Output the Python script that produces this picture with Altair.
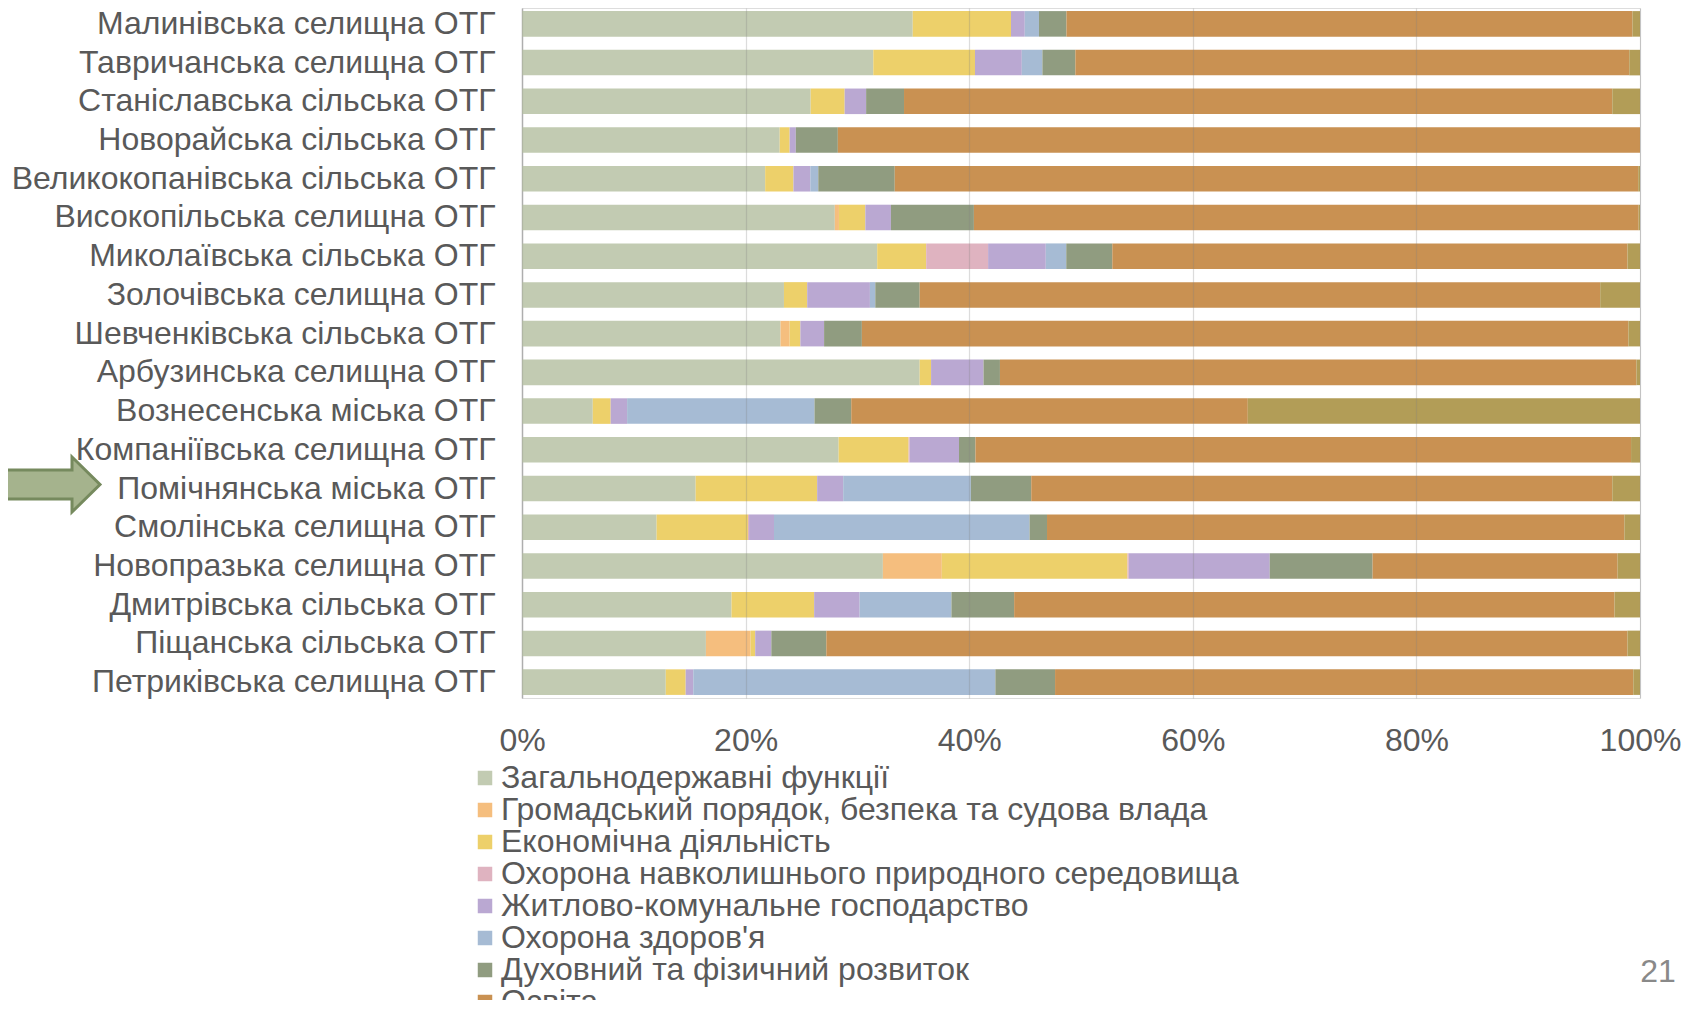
import altair as alt
import pandas as pd

FONT = "Liberation Sans"

regions = [
    "Малинівська селищна ОТГ",
    "Тавричанська селищна ОТГ",
    "Станіславська сільська ОТГ",
    "Новорайська сільська ОТГ",
    "Великокопанівська сільська ОТГ",
    "Високопільська селищна ОТГ",
    "Миколаївська сільська ОТГ",
    "Золочівська селищна ОТГ",
    "Шевченківська сільська ОТГ",
    "Арбузинська селищна ОТГ",
    "Вознесенська міська ОТГ",
    "Компаніївська селищна ОТГ",
    "Помічнянська міська ОТГ",
    "Смолінська селищна ОТГ\u00a0",
    "Новопразька селищна ОТГ",
    "Дмитрівська сільська ОТГ",
    "Піщанська сільська ОТГ",
    "Петриківська селищна ОТГ",
]

categories = [
    "Загальнодержавні функції",
    "Громадський порядок, безпека та судова влада",
    "Економічна діяльність",
    "Охорона навколишнього природного середовища",
    "Житлово-комунальне господарство",
    "Охорона здоров'я",
    "Духовний та фізичний розвиток",
    "Освіта",
    "Соціальний захист та соціальне забезпечення",
]

colors = ["#C2CBB2", "#F5BE7E", "#EDD06A", "#DFB3C0", "#BAA8D2",
          "#A6BBD4", "#909C80", "#C99152", "#B29D57"]

general = [34.95, 31.43, 25.82, 23.05, 21.75, 27.98, 31.77, 23.43, 23.12, 35.57, 6.33, 28.32, 15.53, 12.04, 32.28, 18.74, 16.45, 12.86]
public_order = [0, 0, 0, 0, 0, 0.37, 0, 0, 0.82, 0, 0, 0, 0, 0, 5.27, 0, 4.0, 0]
economic = [8.79, 9.10, 3.04, 0.89, 2.53, 2.36, 4.38, 2.08, 0.96, 1.02, 1.60, 6.26, 10.87, 8.17, 16.61, 7.39, 0.41, 1.78]
environment = [0, 0, 0, 0, 0, 0, 5.54, 0, 0, 0, 0, 0.1, 0, 0.1, 0.12, 0, 0, 0]
housing = [1.23, 4.19, 1.92, 0.55, 1.51, 2.29, 5.16, 5.61, 2.12, 4.69, 1.47, 4.41, 2.33, 2.23, 12.6, 4.07, 1.44, 0.68]
health = [1.27, 1.84, 0, 0, 0.71, 0, 1.83, 0.48, 0, 0, 16.76, 0, 11.42, 22.86, 0, 8.21, 0, 27.02]
culture = [2.46, 2.95, 3.39, 3.76, 6.84, 7.42, 4.12, 3.97, 3.38, 1.47, 3.29, 1.47, 5.40, 1.56, 9.2, 5.61, 4.92, 5.34]
education = [50.62, 49.56, 63.35, 71.75, 66.5, 59.46, 46.08, 60.87, 68.56, 56.93, 35.47, 58.64, 51.97, 51.64, 21.92, 53.7, 71.66, 51.72]
social = [0.68, 0.96, 2.48, 0, 0.16, 0.12, 1.12, 3.56, 1.04, 0.32, 35.08, 0.8, 2.48, 1.4, 2.0, 2.28, 1.12, 0.6]

series = [general, public_order, economic, environment, housing, health, culture, education, social]

x_ticks = [0, 0.2, 0.4, 0.6, 0.8, 1.0]

highlight = ["Помічнянська міська ОТГ"]
page_number = ["21"]

rows = []
for ci, (cat, vals) in enumerate(zip(categories, series)):
    for r, v in zip(regions, vals):
        if v > 0:
            rows.append({"region": r, "category": cat, "order": ci, "value": v})
df = pd.DataFrame(rows)

bars = alt.Chart(df).mark_bar(strokeWidth=0).encode(
    y=alt.Y("region:N", sort=regions,
            scale=alt.Scale(domain=regions, paddingInner=0.34, paddingOuter=0.08),
            axis=alt.Axis(title=None, labelFont=FONT, labelFontSize=32, labelColor="#595959",
                          labelPadding=27, ticks=False, domain=True, domainColor="#BFBFBF",
                          domainWidth=1.5, grid=False, labelLimit=1000)),
    x=alt.X("value:Q", stack="normalize",
            scale=alt.Scale(domain=[0, 1], nice=False),
            axis=alt.Axis(title=None, format=".0%", values=x_ticks, grid=True,
                          gridColor="#808080", gridOpacity=0.28, gridWidth=1.2,
                          domain=False, ticks=False, tickSize=0, labelPadding=27,
                          labelFlush=False,
                          labelFont=FONT, labelFontSize=32, labelColor="#595959",
                          zindex=1)),
    color=alt.Color("category:N", sort=categories,
                    scale=alt.Scale(domain=categories, range=colors),
                    legend=alt.Legend(orient="none", legendX=-53, legendY=754,
                                      direction="vertical", title=None,
                                      symbolType="square", symbolSize=210,
                                      symbolStrokeWidth=0, labelFont=FONT,
                                      labelFontSize=32, labelColor="#595959",
                                      labelOffset=0, rowPadding=-1,
                                      labelLimit=1500, padding=0)),
    order=alt.Order("order:Q", sort="ascending"),
)

arrow_shape = "M -1 -0.29 L 0.44 -0.29 L 0.44 -0.55 L 1 0 L 0.44 0.55 L 0.44 0.29 L -1 0.29 Z"
arrow = alt.Chart(pd.DataFrame({"region": highlight})).mark_point(
    shape=arrow_shape, size=10000, filled=True, fill="#A5B38D", fillOpacity=1,
    stroke="#768A5E", strokeWidth=3, opacity=1, yOffset=-4,
).encode(
    y=alt.Y("region:N", sort=regions),
    x=alt.value(-472),
)

page = alt.Chart(pd.DataFrame({"t": page_number})).mark_text(
    font=FONT, fontSize=32, color="#898989", align="center", baseline="alphabetic",
).encode(text="t:N", x=alt.value(1136), y=alt.value(974))

chart = alt.layer(bars, arrow, page).properties(
    width=1118, height=690,
    autosize=alt.AutoSizeParams(type="none"),
    padding={"left": 514, "top": 0, "right": 54, "bottom": 302},
).configure_view(stroke=None).configure(font=FONT)

chart.save("out.html", embed_options={"renderer": "svg", "actions": False})
